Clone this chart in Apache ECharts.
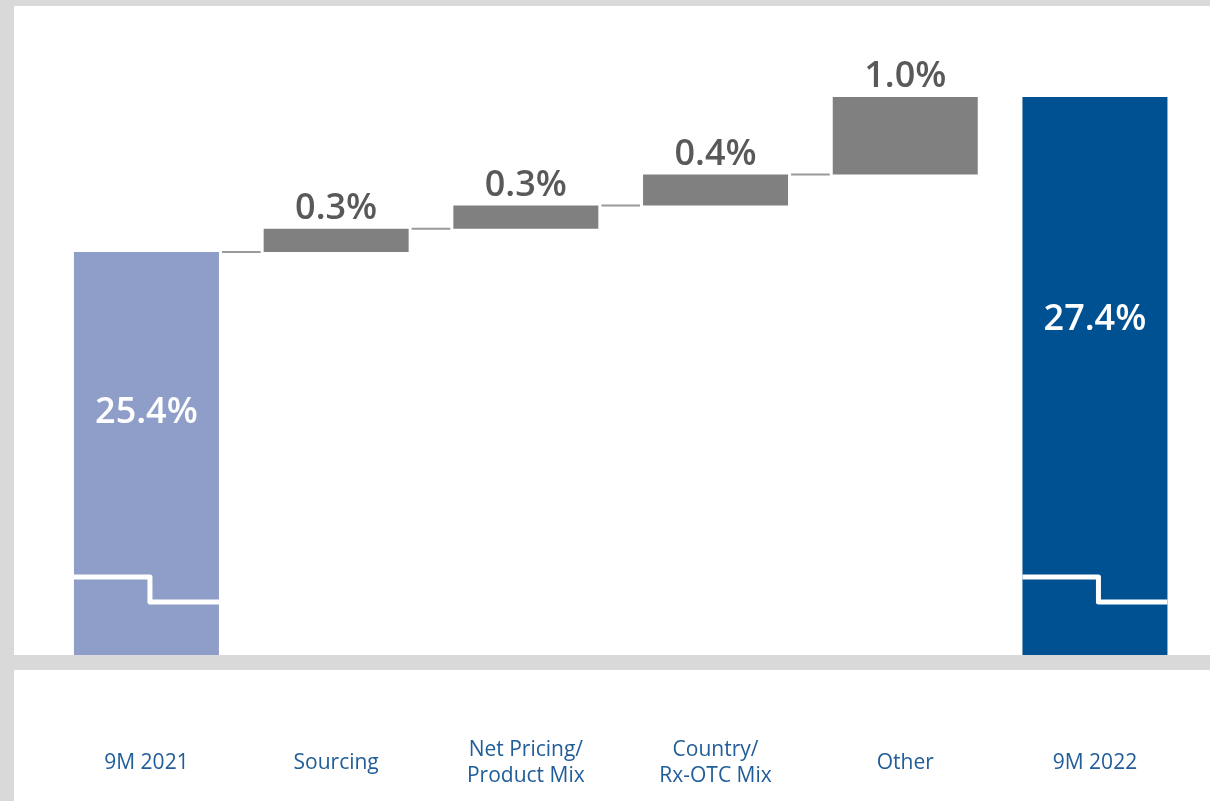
<!DOCTYPE html>
<html>
<head>
<meta charset="utf-8">
<script src="https://cdn.jsdelivr.net/npm/echarts@6/dist/echarts.min.js"></script>
<style>
  html, body { margin: 0; padding: 0; background: #fff; }
  #chart { width: 1210px; height: 801px; }
</style>
</head>
<body>
<div id="chart"></div>
<script>
// categories along the bottom
const categories = ['9M 2021', 'Sourcing', 'Net Pricing/\nProduct Mix', 'Country/\nRx-OTC Mix', 'Other', '9M 2022']
// start and end margins
const startValue = 25.4
const endValue = 27.4
// bridge steps (percentage points)
const steps = [0.3, 0.3, 0.4, 1.0]

const round1 = v => Math.round(v * 10) / 10

// build the waterfall pieces
const baseData = ['-']
const deltaData = ['-']
const levels = [startValue]
let running = startValue
steps.forEach(s => {
  baseData.push(round1(running))
  deltaData.push(s)
  running = round1(running + s)
  levels.push(running)
})
baseData.push('-')
deltaData.push('-')
const totalData = [startValue, '-', '-', '-', '-', endValue]
levels[levels.length - 1] = endValue

// connectors between neighbouring bars: [from index, level]
const connectorData = levels.map((lv, i) => [i, lv])

const BAR_W = 145
const FRAME = '#d9d9d9'

const chart = echarts.init(document.getElementById('chart'))

const option = {
  animation: false,
  grid: { left: 51.6, right: 20.2, top: 50.5, bottom: 146 },
  xAxis: {
    type: 'category',
    data: categories,
    axisLine: { show: false },
    axisTick: { show: false },
    axisLabel: {
      color: '#215d99',
      fontFamily: 'Open Sans',
      fontSize: 21,
      lineHeight: 26,
      verticalAlign: 'middle',
      margin: 108,
      interval: 0
    }
  },
  yAxis: {
    type: 'value',
    min: 20.2,
    max: 28,
    show: false,
    splitLine: { show: false }
  },
  graphic: [
    { type: 'rect', z: 100, shape: { x: 0, y: 0, width: 1210, height: 6 }, style: { fill: FRAME } },
    { type: 'rect', z: 100, shape: { x: 0, y: 0, width: 14, height: 801 }, style: { fill: FRAME } },
    { type: 'rect', z: 100, shape: { x: 0, y: 655, width: 1210, height: 15 }, style: { fill: FRAME } }
  ],
  series: [
    {
      name: 'base',
      type: 'bar',
      stack: 'w',
      barWidth: BAR_W,
      data: baseData,
      itemStyle: { color: 'transparent' },
      silent: true
    },
    {
      name: 'delta',
      type: 'bar',
      stack: 'w',
      barWidth: BAR_W,
      data: deltaData,
      itemStyle: { color: '#808080' },
      label: {
        show: true,
        position: 'top',
        distance: 2,
        color: '#595959',
        fontFamily: 'Open Sans',
        fontSize: 36,
        fontWeight: 600,
        formatter: p => p.value.toFixed(1) + '%'
      }
    },
    {
      name: 'total',
      type: 'bar',
      stack: 'w',
      barWidth: BAR_W,
      data: totalData.map((v, i) => ({
        value: v,
        itemStyle: { color: i === 0 ? '#8f9ec9' : '#005192' }
      })),
      label: {
        show: true,
        position: ['50%', '40%'],
        align: 'center',
        verticalAlign: 'middle',
        color: '#ffffff',
        fontFamily: 'Open Sans',
        fontSize: 36,
        fontWeight: 600,
        formatter: p => p.value.toFixed(1) + '%'
      }
    },
    {
      // thin connector lines between bars
      name: 'connector',
      type: 'custom',
      z: 3,
      silent: true,
      data: connectorData.slice(0, -1),
      renderItem: (params, api) => {
        const i = api.value(0)
        const lv = api.value(1)
        const p1 = api.coord([i, lv])
        const p2 = api.coord([i + 1, lv])
        const half = BAR_W / 2
        return {
          type: 'line',
          shape: { x1: p1[0] + half + 3, y1: p1[1], x2: p2[0] - half - 3, y2: p2[1] },
          style: { stroke: '#9a9a9a', lineWidth: 2 }
        }
      }
    },
    {
      // axis-break step drawn over the total bars
      name: 'break',
      type: 'custom',
      z: 5,
      silent: true,
      data: [[0, 20.2], [5, 20.2]],
      renderItem: (params, api) => {
        const p = api.coord([api.value(0), api.value(1)])
        const left = p[0] - BAR_W / 2
        const right = p[0] + BAR_W / 2
        const bottom = params.coordSys.y + params.coordSys.height
        const xm = left + 76
        return {
          type: 'polyline',
          shape: { points: [[left, bottom - 78], [xm, bottom - 78], [xm, bottom - 53], [right, bottom - 53]] },
          style: { stroke: '#ffffff', lineWidth: 5, fill: null, lineJoin: 'round' }
        }
      }
    }
  ]
}

chart.setOption(option)
</script>
</body>
</html>
